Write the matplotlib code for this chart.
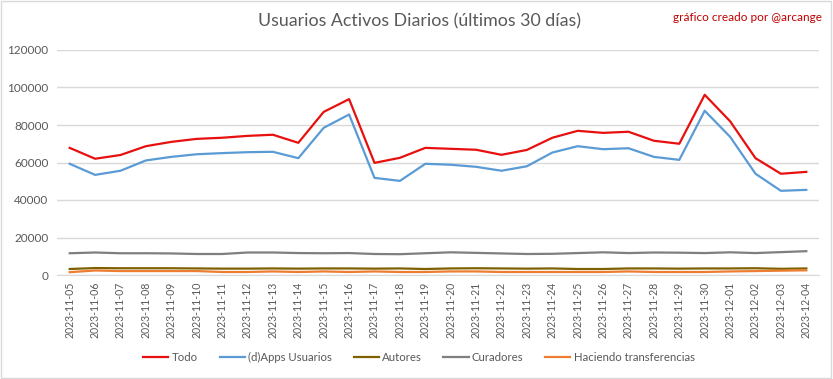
import pandas as pd
import numpy as np
import matplotlib
matplotlib.use("Agg")
import matplotlib.pyplot as plt

plt.rcParams['font.family'] = ['Lato', 'DejaVu Sans']

fechas = pd.date_range("2023-11-05", "2023-12-04").strftime("%Y-%m-%d").tolist()

todo = [67800, 62000, 64000, 68700, 71000, 72600, 73200, 74200, 74800, 70500,
        87000, 93800, 59800, 62500, 67800, 67300, 66800, 64100, 66700, 73200,
        76900, 75800, 76400, 71600, 70000, 96100, 82000, 62300, 54000, 55000]
dapps = [59300, 53400, 55600, 61100, 63000, 64400, 65000, 65500, 65700, 62300,
         78500, 85600, 51800, 50200, 59300, 58800, 57700, 55600, 58000, 65300,
         68700, 67100, 67600, 63000, 61400, 87600, 73700, 54000, 44900, 45400]
autores = [3200, 3700, 3600, 3600, 3600, 3500, 3400, 3400, 3500, 3400,
           3500, 3500, 3400, 3500, 3200, 3500, 3600, 3500, 3400, 3500,
           3200, 3200, 3500, 3500, 3400, 3500, 3500, 3600, 3300, 3500]
curadores = [11600, 12000, 11600, 11600, 11500, 11200, 11200, 12000, 12000, 11700,
             11600, 11700, 11200, 11100, 11600, 12100, 11800, 11500, 11200, 11300,
             11700, 12100, 11700, 12000, 11900, 11700, 12100, 11700, 12200, 12700]
transfer = [1500, 2400, 2100, 2100, 2100, 2100, 1600, 1600, 1900, 1600,
            1900, 1600, 1900, 1600, 1600, 1900, 1900, 1600, 1600, 1600,
            1600, 1600, 1900, 1600, 1600, 1600, 1900, 2100, 2300, 2500]

series = [("Todo", todo, "#E8100E"),
          ("(d)Apps Usuarios", dapps, "#5B9BD5"),
          ("Autores", autores, "#7F6000"),
          ("Curadores", curadores, "#7F7F7F"),
          ("Haciendo transferencias", transfer, "#ED7D31")]

fig = plt.figure(figsize=(8.33, 3.79), dpi=100)
ax = fig.add_axes([57/833, 1-275/379, 762/833, 225/379])

x = np.arange(len(fechas))
for name, vals, col in series:
    ax.plot(x, vals, color=col, lw=1.6, label=name)

ax.set_xlim(-0.5, len(fechas) - 0.5)
ax.set_ylim(0, 120000)
ax.set_yticks(np.arange(0, 120001, 20000))
ax.set_xticks(x)
ax.set_xticklabels(fechas, rotation=90)
ax.tick_params(axis='both', length=0, colors="#595959", labelsize=8.5)
ax.tick_params(axis='x', pad=5, labelsize=7.6)
ax.tick_params(axis='y', pad=6)
ax.grid(axis='y', color="#D9D9D9", lw=1)
ax.set_axisbelow(True)
for s in ["top", "right", "left"]:
    ax.spines[s].set_visible(False)
ax.spines["bottom"].set_color("#D9D9D9")

fig.text(0.504, 0.943, "Usuarios Activos Diarios (últimos 30 días)", ha="center", va="center",
         fontsize=12.8, color="#595959")
fig.text(0.987, 0.955, "gráfico creado por @arcange", ha="right", va="center",
         fontsize=8.5, color="#C00000")

fig.legend(loc="center", bbox_to_anchor=(0.503, 1-357/379), ncol=5, frameon=False,
           fontsize=8.2, labelcolor="#595959", handlelength=2.2, handletextpad=0.3,
           columnspacing=1.9)

fig.patches.append(plt.Rectangle((0.001, 0.002), 0.997, 0.996, transform=fig.transFigure,
                                 fill=False, edgecolor="#D9D9D9", lw=1))

fig.savefig("out.png", dpi=100)
